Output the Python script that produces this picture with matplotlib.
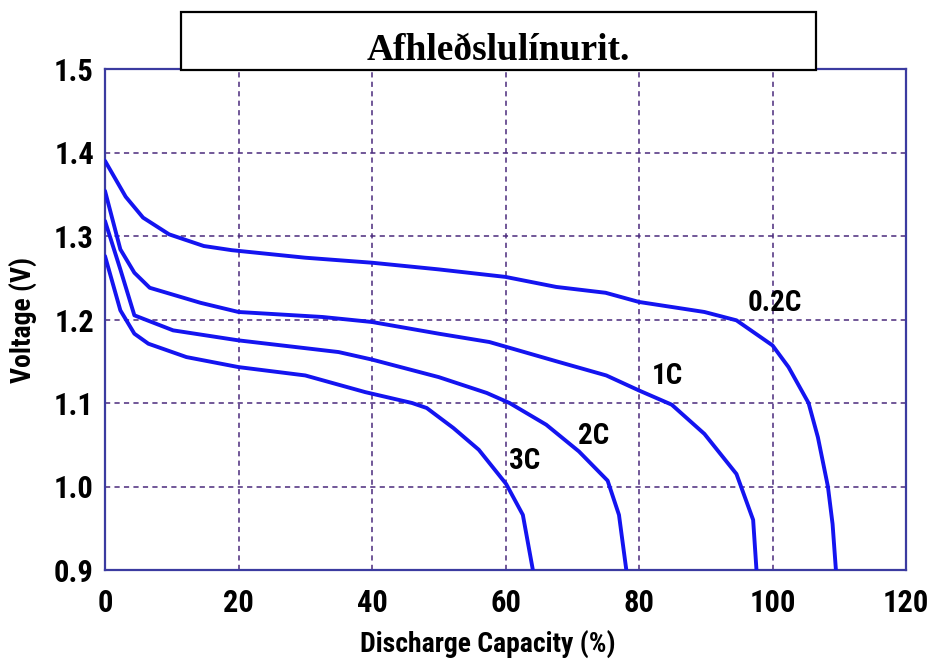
"""
Afhleðslulínurit: spenna rafhlöðu sem fall af afhleðslu við mismunandi straum.
"""

import matplotlib
matplotlib.use("Agg")
import matplotlib.pyplot as plt
from matplotlib import font_manager
from matplotlib.patches import Rectangle

# Gögn lesin af upprunalegu myndinni
cap_02c = [0, 3.1, 5.7, 9.6, 14.8, 19, 30, 40, 50, 60, 67.6, 75, 80, 89.8, 94.6,
           100, 102.4, 105.4, 106.8, 108.3, 109, 109.5]
volt_02c = [1.39, 1.347, 1.322, 1.302, 1.288, 1.283, 1.274, 1.268, 1.26, 1.251, 1.239,
            1.232, 1.221, 1.209, 1.199, 1.169, 1.143, 1.1, 1.059, 1.0, 0.955, 0.9]

cap_1c = [0, 2.3, 4.4, 6.7, 14.3, 20, 32.6, 40, 50, 57.6, 67.6, 75.1, 80, 84.9,
          89.8, 94.6, 97.1, 97.6]
volt_1c = [1.354, 1.284, 1.256, 1.238, 1.22, 1.209, 1.203, 1.197, 1.183, 1.173, 1.15,
           1.133, 1.115, 1.098, 1.063, 1.015, 0.96, 0.9]

cap_2c = [0, 2.3, 4.4, 10.2, 20, 35, 40, 50, 57.2, 60.6, 66.1, 71.0, 75.3, 77.0, 78.1]
volt_2c = [1.318, 1.26, 1.205, 1.187, 1.175, 1.161, 1.152, 1.131, 1.112, 1.1, 1.074,
           1.042, 1.007, 0.966, 0.9]

cap_3c = [0, 2.3, 4.4, 6.5, 12.2, 20, 30, 39, 46, 48.2, 52.2, 56, 60.1, 62.6, 64.1]
volt_3c = [1.276, 1.211, 1.183, 1.171, 1.155, 1.143, 1.133, 1.113, 1.1, 1.094, 1.07,
           1.044, 1.003, 0.966, 0.9]

curve_names = ["0.2C", "1C", "2C", "3C"]
label_x = [100.4, 84.2, 73.2, 62.9]
label_y = [1.22, 1.132, 1.061, 1.03]

x_ticks = [0, 20, 40, 60, 80, 100, 120]
y_ticks = [0.9, 1.0, 1.1, 1.2, 1.3, 1.4, 1.5]


def pick_narrow_font():
    # leitum að mjóu letri, annars DejaVu Sans í minni stærð
    fonts = font_manager.fontManager.ttflist
    names = {f.name for f in fonts}
    for n in ["Liberation Sans Narrow", "Roboto Condensed", "Open Sans Condensed",
              "Noto Sans Condensed", "DejaVu Sans Condensed"]:
        if n in names:
            return {"family": [n, "DejaVu Sans"]}, 1.0
    for f in fonts:
        if f.name == "DejaVu Sans" and "condensed" in str(f.stretch).lower():
            return {"family": ["DejaVu Sans"], "fontstretch": "condensed"}, 1.0
    for f in fonts:
        if f.name == "Noto Sans" and "condensed" in str(f.stretch).lower():
            return {"family": ["Noto Sans"], "fontstretch": "condensed"}, 1.0
    return {"family": ["DejaVu Sans"], "fontstretch": "condensed"}, 0.8


narrow, scale = pick_narrow_font()
grid_color = "#4a2a7c"
line_color = "#1414f0"

fig = plt.figure(figsize=(9.31, 6.64), dpi=100)
ax = fig.add_axes([105 / 931, 1 - 570 / 664, 801 / 931, 501 / 664])

for cap, volt in [(cap_02c, volt_02c), (cap_1c, volt_1c), (cap_2c, volt_2c), (cap_3c, volt_3c)]:
    ax.plot(cap, volt, color=line_color, linewidth=2.8, solid_capstyle="round", zorder=3)

for name, lx, ly in zip(curve_names, label_x, label_y):
    ax.text(lx, ly, name, ha="center", va="center", fontsize=21 * scale,
            fontweight="bold", zorder=4, **narrow)

ax.set_xlim(0, 120)
ax.set_ylim(0.9, 1.5)
ax.set_xticks(x_ticks)
ax.set_yticks(y_ticks)
ax.set_xticklabels([str(t) for t in x_ticks], fontsize=22 * scale, fontweight="bold", **narrow)
ax.set_yticklabels([f"{t:.1f}" for t in y_ticks], fontsize=22 * scale, fontweight="bold", **narrow)
ax.tick_params(axis="both", length=0)
ax.tick_params(axis="x", pad=13)
ax.tick_params(axis="y", pad=8)

# siðrétt grind
ax.grid(True, color=grid_color, linewidth=1.1, linestyle=(0, (3.4, 2.8)))
for s in ax.spines.values():
    s.set_color("#3b3ba0")
    s.set_linewidth(1.6)

ax.set_xlabel("Discharge Capacity (%)", fontsize=20 * scale, fontweight="bold", **narrow)
ax.xaxis.set_label_coords(0.478, -0.12)
ax.xaxis.label.set_va("top")
ax.set_ylabel("Voltage (V)", fontsize=20 * scale, fontweight="bold", **narrow)
ax.yaxis.set_label_coords(-0.085, 0.5)

# titilkassi ofan á grafinu
box = Rectangle((181 / 931, 1 - 70 / 664), 635 / 931, 58 / 664, transform=fig.transFigure,
                facecolor="white", edgecolor="black", linewidth=1.6, zorder=5)
fig.add_artist(box)
fig.text(498 / 931, 1 - 60 / 664, "Afhleðslulínurit.", ha="center", va="baseline",
         fontsize=27, fontweight="bold", family="Liberation Serif", zorder=6)

fig.savefig("out.png", dpi=100)
